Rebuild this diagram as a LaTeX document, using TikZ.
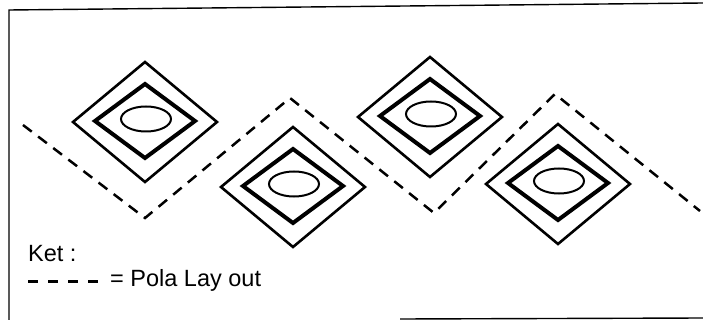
\documentclass[tikz,border=0pt]{standalone}
\usepackage{fontspec}
\setmainfont{Liberation Sans}
\tikzset{
  luar/.style={line width=2.6pt},
  dalam/.style={line width=4pt},
  lubang/.style={line width=2pt},
  polalayout/.style={line width=2.5pt, dash pattern=on 11pt off 8pt},
  ket/.style={anchor=base west, inner sep=0pt, font=\fontsize{23.5}{28}\selectfont}
}
\begin{document}
\begin{tikzpicture}[x=1pt,y=-1pt]
\useasboundingbox (0,0) rectangle (703,320);

% ===== Bingkai =====
\draw[line width=1.4pt] (703,3) -- (9,10) -- (9,320);
\draw[line width=1.4pt] (400,319) -- (703,318);

% ===== Pola lay out =====
\draw[polalayout] (23,125) -- (145,218) -- (290,98) -- (434,213) -- (555,94) -- (700,211);

% ===== Motif belah ketupat =====
\foreach \cx/\cy [count=\i] in {145/122, 293/187, 430/117, 558/184} {
    \coordinate (m\i) at (\cx,\cy);
    \draw[luar] (m\i) ++(0,-60) -- ++(72,60) -- ++(-72,60) -- ++(-72,-60) -- cycle;
    \draw[dalam] (m\i) ++(0,-38) -- ++(50,37) -- ++(-50,37) -- ++(-50,-37) -- cycle;
    \draw[lubang] (\cx+1,\cy-3) ellipse [x radius=25, y radius=12.5];
}

% ===== Keterangan =====
\node[ket] (ket) at (28,261) {Ket :};
\coordinate (kunci) at (28,281);
\node[ket] (pola) at (110,286) {= Pola Lay out};
\draw[line width=3pt, dash pattern=on 10pt off 10pt] (kunci) -- ++(70,0);

\end{tikzpicture}
\end{document}
